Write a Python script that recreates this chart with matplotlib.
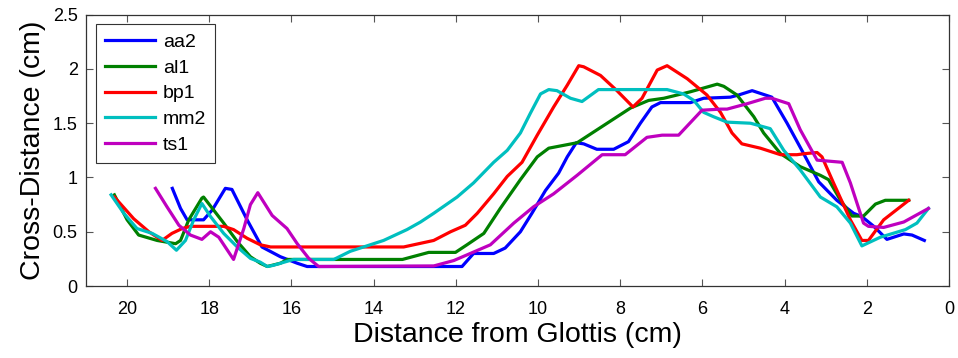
import matplotlib
matplotlib.use('Agg')
import matplotlib.pyplot as plt

plt.rcParams['font.family'] = ['Liberation Sans', 'DejaVu Sans']

# distance from glottis (cm) and cross-distance (cm)
aa2_x = [18.9, 18.70, 18.54, 18.14, 17.93, 17.61, 17.45, 17.08, 16.72, 16.27, 15.86, 15.62, 15.30,
         11.85, 11.57, 11.08, 10.80, 10.43, 10.15, 9.82, 9.50, 9.29, 9.07, 8.89, 8.57, 8.16, 7.80,
         7.51, 7.23, 7.02, 6.29, 5.97, 5.32, 5.12, 4.79, 4.31, 3.94, 3.58, 3.17, 2.73, 2.32, 2.12,
         1.83, 1.51, 1.10, 0.90, 0.60]
aa2_y = [0.90, 0.715, 0.61, 0.61, 0.70, 0.90, 0.89, 0.61, 0.36, 0.27, 0.21, 0.18, 0.18,
         0.18, 0.30, 0.30, 0.35, 0.50, 0.67, 0.88, 1.04, 1.19, 1.32, 1.31, 1.26, 1.26, 1.33,
         1.50, 1.65, 1.69, 1.69, 1.73, 1.74, 1.76, 1.80, 1.74, 1.50, 1.25, 0.96, 0.79, 0.67, 0.64,
         0.55, 0.43, 0.48, 0.47, 0.42]

al1_x = [20.31, 20.0, 19.72, 19.27, 18.82, 18.70, 18.50, 18.18, 18.14, 17.65, 17.32, 17.0, 16.76,
         16.59, 16.27, 16.1, 13.3, 12.66, 12.01, 11.73, 11.32, 10.92, 10.43, 10.02, 9.74, 9.05,
         8.40, 7.75, 7.31, 6.94, 6.29, 5.64, 5.48, 5.16, 4.75, 4.51, 4.10, 3.62, 3.13, 2.93, 2.64,
         2.36, 2.08, 1.79, 1.55, 0.98]
al1_y = [0.84, 0.61, 0.47, 0.42, 0.39, 0.42, 0.61, 0.81, 0.82, 0.58, 0.41, 0.27, 0.21,
         0.18, 0.21, 0.245, 0.245, 0.31, 0.31, 0.38, 0.485, 0.715, 0.98, 1.19, 1.27, 1.32,
         1.48, 1.64, 1.71, 1.73, 1.79, 1.86, 1.84, 1.76, 1.56, 1.41, 1.22, 1.10, 1.02, 0.98, 0.79,
         0.645, 0.645, 0.755, 0.79, 0.79]

bp1_x = [20.31, 19.84, 19.47, 19.15, 18.91, 18.66, 18.46, 17.65, 17.41, 17.08, 16.76, 16.51,
         13.27, 12.54, 12.13, 11.77, 11.48, 11.08, 10.75, 10.39, 10.02, 9.62, 9.29, 9.01, 8.89,
         8.48, 8.08, 7.69, 7.47, 7.10, 6.86, 6.37, 5.89, 5.56, 5.28, 5.04, 4.59, 4.10, 3.70, 3.50,
         3.21, 3.09, 2.81, 2.40, 2.12, 1.96, 1.59, 0.98]
bp1_y = [0.82, 0.62, 0.50, 0.42, 0.485, 0.53, 0.55, 0.55, 0.52, 0.44, 0.38, 0.36,
         0.36, 0.42, 0.50, 0.56, 0.67, 0.85, 1.01, 1.14, 1.39, 1.65, 1.85, 2.03, 2.02,
         1.94, 1.80, 1.65, 1.73, 1.99, 2.03, 1.91, 1.76, 1.60, 1.41, 1.31, 1.27, 1.21, 1.21, 1.22,
         1.23, 1.19, 0.95, 0.61, 0.42, 0.42, 0.61, 0.79]

mm2_x = [20.39, 20.08, 19.76, 19.39, 19.03, 18.80, 18.58, 18.38, 18.18, 17.97, 17.65, 17.32,
         17.0, 16.76, 16.59, 16.45, 15.95, 14.97, 14.57, 13.76, 13.19, 12.86, 12.54, 11.97, 11.57,
         11.08, 10.75, 10.43, 10.19, 9.94, 9.74, 9.54, 9.21, 8.93, 8.53, 6.86, 6.46, 6.21, 5.97,
         5.73, 5.40, 4.83, 4.35, 4.02, 3.62, 3.13, 2.73, 2.40, 2.12, 1.67, 1.06, 0.78, 0.50]
mm2_y = [0.84, 0.67, 0.53, 0.485, 0.41, 0.33, 0.42, 0.61, 0.76, 0.64, 0.485, 0.36,
         0.255, 0.22, 0.18, 0.19, 0.245, 0.245, 0.32, 0.42, 0.52, 0.59, 0.67, 0.82, 0.95,
         1.14, 1.25, 1.41, 1.59, 1.77, 1.81, 1.80, 1.73, 1.70, 1.81, 1.81, 1.77, 1.71, 1.60,
         1.56, 1.51, 1.50, 1.45, 1.25, 1.07, 0.82, 0.73, 0.58, 0.37, 0.45, 0.52, 0.58, 0.715]

ts1_x = [19.31, 19.03, 18.74, 18.46, 18.18, 17.97, 17.77, 17.41, 17.16, 17.0, 16.82, 16.47,
         16.11, 15.86, 15.58, 15.34, 12.54, 12.05, 11.65, 11.16, 10.59, 10.11, 9.62, 9.05, 8.44,
         7.88, 7.35, 6.98, 6.58, 6.01, 5.56, 5.40, 4.91, 4.47, 4.31, 3.90, 3.62, 3.21, 2.60, 2.40,
         2.08, 1.96, 1.59, 1.10, 0.50]
ts1_y = [0.90, 0.73, 0.56, 0.47, 0.43, 0.50, 0.45, 0.245, 0.53, 0.75, 0.86, 0.65,
         0.53, 0.39, 0.255, 0.18, 0.185, 0.235, 0.30, 0.38, 0.58, 0.73, 0.85, 1.02, 1.21,
         1.21, 1.37, 1.39, 1.39, 1.62, 1.63, 1.63, 1.68, 1.73, 1.73, 1.68, 1.44, 1.16, 1.14, 0.95,
         0.58, 0.55, 0.54, 0.59, 0.715]

labels = ['aa2', 'al1', 'bp1', 'mm2', 'ts1']
colors = ['#0000ff', '#008000', '#ff0000', '#00bfbf', '#bf00bf']
xticks = [20, 18, 16, 14, 12, 10, 8, 6, 4, 2, 0]
yticks = [0, 0.5, 1, 1.5, 2, 2.5]
ytick_labels = ['0', '0.5', '1', '1.5', '2', '2.5']

fig = plt.figure(figsize=(9.58, 3.58), dpi=100)
ax = fig.add_axes([0.0898, 0.201, 0.9008, 0.758])

series = [(aa2_x, aa2_y), (al1_x, al1_y), (bp1_x, bp1_y), (mm2_x, mm2_y), (ts1_x, ts1_y)]
for (xs, ys), lab, c in zip(series, labels, colors):
    ax.plot(xs, ys, color=c, lw=2.3, label=lab)

ax.set_xlim(21, 0)
ax.set_ylim(0, 2.5)
ax.set_xticks(xticks)
ax.set_yticks(yticks)
ax.set_yticklabels(ytick_labels)
ax.tick_params(direction='in', top=True, right=True, labelsize=13, length=5, color='#555555')
ax.tick_params(axis='x', pad=11)
ax.tick_params(axis='y', pad=6)
for sp in ax.spines.values():
    sp.set_color('#333333')
    sp.set_linewidth(0.9)

ax.set_xlabel('Distance from Glottis (cm)', fontsize=20.5, labelpad=3)
ax.set_ylabel('Cross-Distance (cm)', fontsize=20.5, labelpad=5)

leg = ax.legend(loc='upper left', fontsize=14, handlelength=2.6, borderaxespad=0.5,
                fancybox=False, framealpha=1, edgecolor='#333333', labelspacing=0.42,
                handletextpad=0.4, borderpad=0.45)
leg.get_frame().set_linewidth(0.8)

fig.savefig('out.png', dpi=100)
